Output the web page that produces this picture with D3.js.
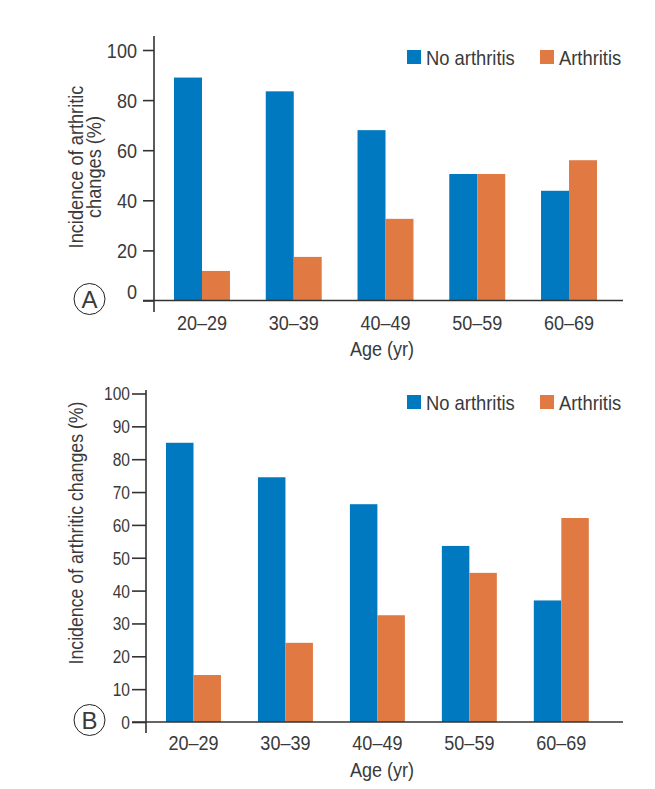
<!DOCTYPE html>
<html>
<head>
<meta charset="utf-8">
<script src="https://cdn.jsdelivr.net/npm/d3@7"></script>
<style>
  html, body { margin: 0; padding: 0; background: #fff; }
  svg { display: block; }
  text { font-family: "Liberation Sans", Arial, sans-serif; fill: #3a3a3a; }
</style>
</head>
<body>
<svg id="chart" width="655" height="789"></svg>
<script>
// ---- Data ----
const categories = ["20–29", "30–39", "40–49", "50–59", "60–69"];
const seriesNames = ["No arthritis", "Arthritis"];
const noArthritisA = [89, 83.5, 68, 50.5, 43.8];
const arthritisA   = [11.8, 17.4, 32.6, 50.5, 56];
const noArthritisB = [85, 74.5, 66.3, 53.6, 37];
const arthritisB   = [14.3, 24.1, 32.5, 45.4, 62.1];
const ticksA = [0, 20, 40, 60, 80, 100];
const ticksB = [0, 10, 20, 30, 40, 50, 60, 70, 80, 90, 100];
const colors = ["#0079c1", "#e07a42"];

const svg = d3.select("#chart");
const ink = "#333";
const SX = 0.86; // horizontal condensing of the text

// condensed text helper
function ctext(parent, x, y, str, size, anchor, rot, sx) {
  const g = parent.append("g")
    .attr("transform", `translate(${x},${y})` + (rot ? ` rotate(${rot})` : "") + ` scale(${sx || SX},1)`);
  return g.append("text").attr("text-anchor", anchor || "start").attr("font-size", size).text(str);
}

function panel(cfg) {
  const g = svg.append("g");
  const y = d3.scaleLinear().domain([0, 100]).range([cfg.y0, cfg.y100]);
  const x = d3.scaleBand().domain(categories).range([cfg.axisX, cfg.xEnd])
    .paddingInner(cfg.pi).paddingOuter(cfg.po);
  const xs = d3.scaleBand().domain(seriesNames).range([0, x.bandwidth()]);

  // bars
  const data = categories.map((c, i) => ({c, vals: [cfg.s1[i], cfg.s2[i]]}));
  const grp = g.selectAll("g.grp").data(data).enter().append("g")
    .attr("transform", d => `translate(${x(d.c)},0)`);
  grp.selectAll("rect").data(d => d.vals.map((v, k) => ({v, k})))
    .enter().append("rect")
    .attr("x", d => xs(seriesNames[d.k]))
    .attr("width", xs.bandwidth())
    .attr("y", d => y(d.v))
    .attr("height", d => y(0) - y(d.v))
    .attr("fill", d => colors[d.k]);

  // y axis
  const yAxis = d3.axisLeft(y).tickValues(cfg.ticks).tickSize(cfg.tickLen).tickPadding(cfg.tickPad)
    .tickFormat(d3.format("d"));
  const ya = g.append("g").attr("transform", `translate(${cfg.axisX},0)`).call(yAxis);
  ya.select(".domain").remove();
  ya.selectAll(".tick line").attr("stroke", ink).attr("stroke-width", 1.6);
  ya.selectAll(".tick text")
    .attr("font-size", cfg.yTickFont).attr("fill", "#3a3a3a").attr("font-family", null)
    .attr("x", 0).attr("dy", d => (d === 0 && cfg.zeroShift) ? cfg.zeroShift : "0.35em")
    .attr("transform", `translate(${-(cfg.tickLen + cfg.tickPad)},0) scale(${cfg.yTickSX},1)`);
  g.append("line").attr("x1", cfg.axisX).attr("x2", cfg.axisX)
    .attr("y1", cfg.axisTop).attr("y2", cfg.axisBottom)
    .attr("stroke", ink).attr("stroke-width", 1.6);

  // x baseline
  g.append("line").attr("x1", cfg.axisX - cfg.tickLen).attr("x2", cfg.baseEnd)
    .attr("y1", y(0)).attr("y2", y(0)).attr("stroke", ink).attr("stroke-width", 1.6);

  // x tick labels
  categories.forEach(c => ctext(g, x(c) + x.bandwidth() / 2, cfg.xLabelY, c, cfg.font, "middle"));
  ctext(g, cfg.ageX, cfg.ageY, "Age (yr)", cfg.font, "middle");

  // y title
  cfg.titleLines.forEach((t, i) => ctext(g, cfg.titleX[i], cfg.titleCY, t, cfg.font, "middle", -90, cfg.titleSX));

  // legend
  cfg.legend.forEach((l, i) => {
    g.append("rect").attr("x", l.x).attr("y", cfg.legY).attr("width", 14).attr("height", 14)
      .attr("fill", colors[i]);
    ctext(g, l.x + 19, cfg.legY + 14.5, seriesNames[i], cfg.legFont, "start", 0, 0.875);
  });

  // circled letter
  g.append("circle").attr("cx", cfg.circ[0]).attr("cy", cfg.circ[1]).attr("r", 15.5)
    .attr("fill", "none").attr("stroke", "#222").attr("stroke-width", 1);
  ctext(g, cfg.circ[0], cfg.circ[1] + 8.5, cfg.letter, 24, "middle", 0, 1).attr("fill", "#222");
}

panel({
  s1: noArthritisA, s2: arthritisA, ticks: ticksA,
  y0: 300.5, y100: 50, axisX: 154, xEnd: 617, pi: 0.39, po: 0.218,
  axisTop: 36, axisBottom: 312, tickLen: 11, tickPad: 6, yTickFont: 21, yTickSX: 0.86, zeroShift: "-0.08em",
  baseEnd: 623, xLabelY: 330, ageX: 382, ageY: 356, font: 21, titleSX: 0.867,
  titleLines: ["Incidence of arthritic", "changes (%)"], titleX: [83, 101], titleCY: 167,
  legY: 50, legend: [{x: 407}, {x: 540}], legFont: 21,
  circ: [89.5, 299], letter: "A"
});

panel({
  s1: noArthritisB, s2: arthritisB, ticks: ticksB,
  y0: 722, y100: 393.5, axisX: 146, xEnd: 608.8, pi: 0.402, po: 0.2175,
  axisTop: 390, axisBottom: 733, tickLen: 14, tickPad: 2, yTickFont: 18.5, yTickSX: 0.84, zeroShift: null,
  baseEnd: 623, xLabelY: 750, ageX: 382, ageY: 777, font: 21, titleSX: 0.844,
  titleLines: ["Incidence of arthritic changes (%)"], titleX: [83], titleCY: 533,
  legY: 395, legend: [{x: 407}, {x: 540}], legFont: 21,
  circ: [89.5, 720], letter: "B"
});
</script>
</body>
</html>
